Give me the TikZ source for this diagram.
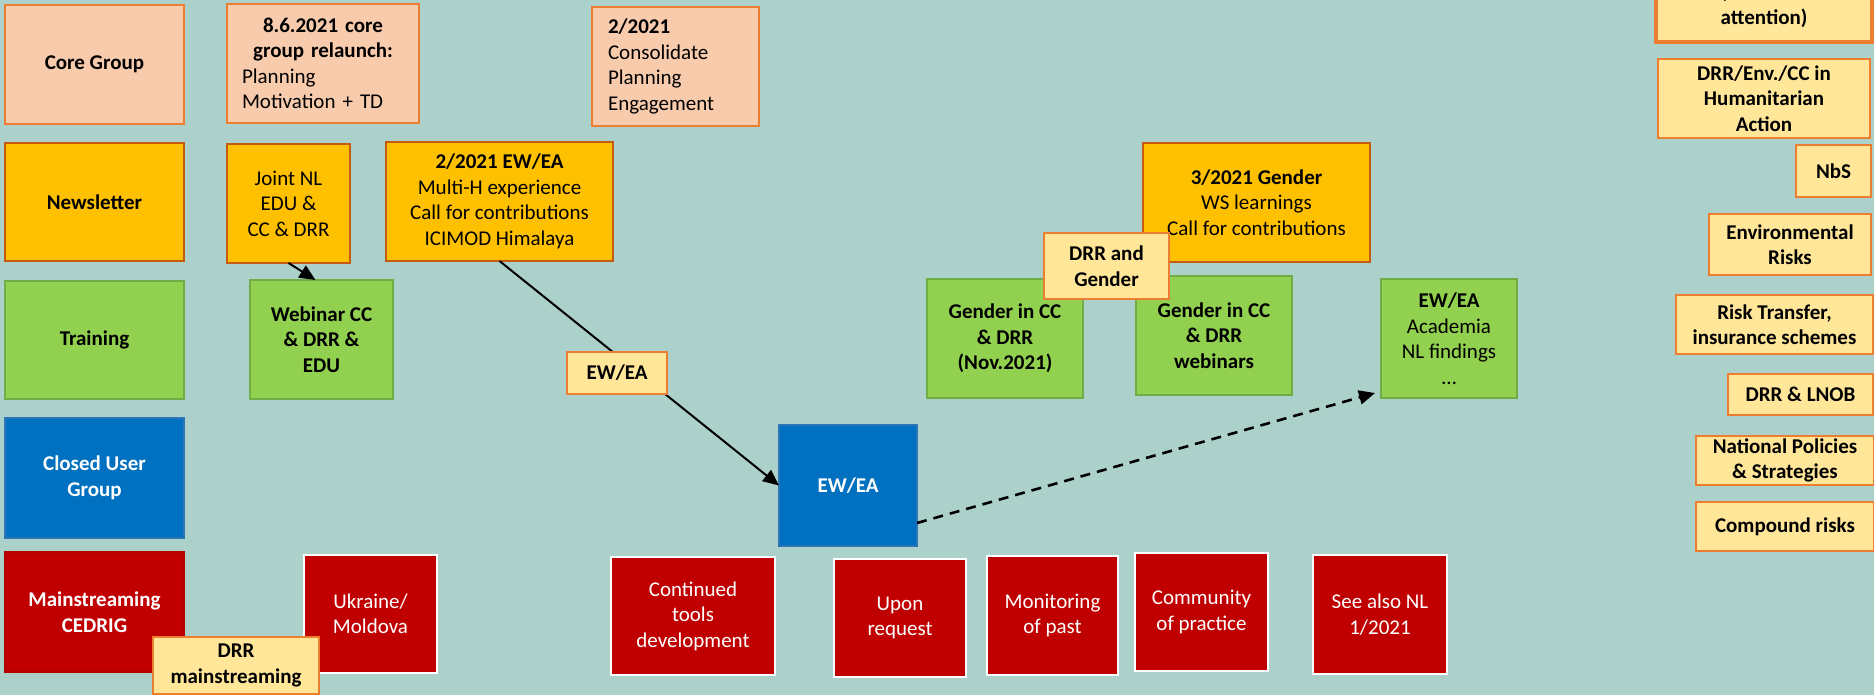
\documentclass[tikz,border=0pt]{standalone}
\usepackage{fontspec}
\setmainfont{Carlito}
\usetikzlibrary{arrows.meta}
\definecolor{bgC}{HTML}{ACD1CA}
\definecolor{peachF}{HTML}{F8CBAD}
\definecolor{peachD}{HTML}{ED7D31}
\definecolor{orangeF}{HTML}{FFC000}
\definecolor{orangeD}{HTML}{C55A11}
\definecolor{greenF}{HTML}{92D050}
\definecolor{greenD}{HTML}{70AD47}
\definecolor{blueF}{HTML}{0070C0}
\definecolor{blueD}{HTML}{2E75B6}
\definecolor{redF}{HTML}{C00000}
\definecolor{redD}{HTML}{B00000}
\definecolor{yellowF}{HTML}{FFE699}
\newcommand\fs{\fontsize{10.5}{12.75}\selectfont}
\newcommand\mybox[7]{\node[#2, minimum width={((#5)-(#3))*0.5pt}, minimum height={((#6)-(#4))*0.5pt}] (#1) at ({((#3)+(#5))/2},{((#4)+(#6))/2}) {#7};}
\tikzset{
  base/.style={rectangle, inner sep=0pt, outer sep=0pt, align=center, line width=1pt, font=\fs},
  peach/.style={base, fill=peachF, draw=peachD},
  orng/.style={base, fill=orangeF, draw=orangeD},
  grn/.style={base, fill=greenF, draw=greenD},
  blu/.style={base, fill=blueF, draw=blueD, line width=0.6pt, text=white, font=\fs\bfseries},
  redbox/.style={base, fill=redF, draw=white, line width=1.3pt, text=white},
  lbl/.style={base, fill=yellowF, draw=peachD, font=\fs\bfseries},
  bld/.style={font=\fs\bfseries},
  arr/.style={line width=1pt, -{Triangle[length=8pt,width=7pt]}},
  dsh/.style={line width=1.3pt, dash pattern=on 5pt off 3.5pt, -{Triangle[length=8pt,width=7pt]}}
}
\begin{document}
\begin{tikzpicture}[x=0.5pt,y=-0.5pt]
\useasboundingbox (0,0) rectangle (1874,695);
\clip (0,0) rectangle (1874,695);
\fill[bgC] (0,0) rectangle (1874,695);
% row labels
\mybox{core}{peach,bld}{5}{5}{184}{124}{Core Group}
\mybox{newsletter}{orng,bld}{5}{143}{184}{261}{Newsletter}
\mybox{training}{grn,bld}{5}{281}{184}{399}{Training}
\mybox{cug}{blu}{5}{418}{184}{538}{Closed User\\Group}
\mybox{mainstr}{redbox,bld,draw=redD,line width=0.6pt}{5}{552}{184}{672}{Mainstreaming\\CEDRIG}
% core group row
\mybox{relaunch}{peach,text width=81pt,align=left}{227}{4}{419}{123}{{\centering\bfseries 8.6.2021 core\\group relaunch:\par}Planning\\Motivation + TD}
\mybox{consol}{peach,text width=67.5pt,align=left}{592}{7}{759}{126}{\textbf{2/2021}\\Consolidate\\Planning\\Engagement}
% newsletter row
\mybox{jointnl}{orng}{227}{144}{350}{263}{Joint NL\\EDU \&\\CC \& DRR}
\mybox{ewea2}{orng}{386}{142}{613}{261}{\textbf{2/2021 EW/EA}\\Multi-H experience\\Call for contributions\\ICIMOD Himalaya}
\mybox{gender3}{orng}{1143}{143}{1370}{262}{\textbf{3/2021 Gender}\\WS learnings\\Call for contributions}
% training row
\mybox{webinar}{grn,bld}{250}{280}{393}{399}{Webinar CC\\\& DRR \&\\EDU}
\mybox{gendernov}{grn,bld}{927}{279}{1083}{398}{Gender in CC\\\& DRR\\(Nov.2021)}
\mybox{genderweb}{grn,bld}{1136}{276}{1292}{395}{Gender in CC\\\& DRR\\webinars}
\mybox{academia}{grn}{1381}{279}{1517}{398}{\textbf{EW/EA}\\Academia\\NL findings\\…}
% closed user group row
\mybox{blueewea}{blu}{779}{425}{917}{546}{EW/EA}
% mainstreaming row
\mybox{ukraine}{redbox}{304}{555}{437}{673}{Ukraine/\\Moldova}
\mybox{continued}{redbox}{611}{557}{775}{675}{Continued\\tools\\development}
\mybox{upon}{redbox}{834}{559}{966}{677}{Upon\\request}
\mybox{monitoring}{redbox}{987}{556}{1118}{675}{Monitoring\\of past}
\mybox{community}{redbox}{1135}{553}{1268}{671}{Community\\of practice}
\mybox{seealso}{redbox}{1313}{555}{1447}{674}{See also NL\\1/2021}
% connectors
\draw[arr] (jointnl.south) -- ([xshift=-3pt]webinar.north);
\draw[arr] (ewea2.south) -- (blueewea.west);
\draw[dsh] ([yshift=11.5pt]blueewea.south east) -- ([xshift=-3pt,yshift=2.5pt]academia.south west);
% labels
\mybox{ewealbl}{lbl}{567}{352}{667}{394}{EW/EA}
\mybox{drrgender}{lbl}{1044}{233}{1169}{299}{DRR and\\Gender}
\mybox{drrmain}{lbl}{153}{637}{319}{694}{DRR\\mainstreaming}
% right column
\mybox{topbox}{lbl,line width=2.3pt}{1656}{-31.5}{1872}{42}{\rlap{(}\phantom{attention)}\\attention)}
\mybox{drrenv}{lbl}{1658}{59}{1870}{138}{DRR/Env./CC in\\Humanitarian\\Action}
\mybox{nbs}{lbl}{1796}{145}{1871}{197}{NbS}
\mybox{envrisks}{lbl}{1709}{214}{1871}{275}{Environmental\\Risks}
\mybox{risktr}{lbl}{1676}{295}{1873}{354}{Risk Transfer,\\insurance schemes}
\mybox{lnob}{lbl}{1728}{374}{1873}{415}{DRR \& LNOB}
\mybox{natpol}{lbl}{1696}{436}{1874}{485}{National Policies\\\& Strategies}
\mybox{compound}{lbl}{1696}{502}{1874}{551}{Compound risks}
\end{tikzpicture}
\end{document}
